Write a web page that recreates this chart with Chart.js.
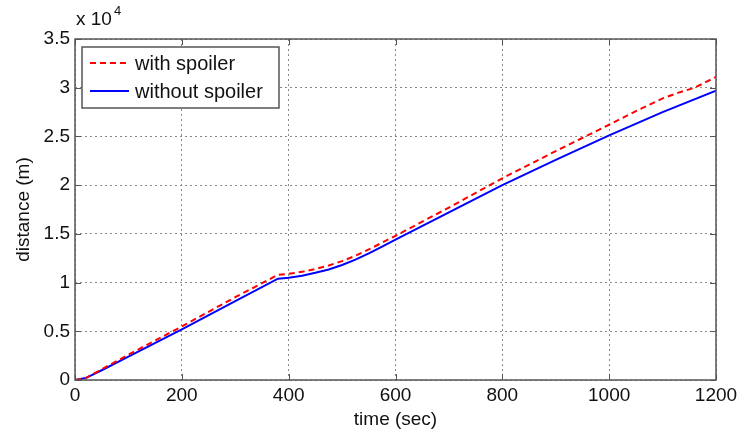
<!DOCTYPE html>
<html>
<head>
<meta charset="utf-8">
<script src="https://cdn.jsdelivr.net/npm/chart.js@4/dist/chart.umd.min.js"></script>
<style>
html,body{margin:0;padding:0;background:#fff;}
#wrap{width:742px;height:435px;position:relative;}
</style>
</head>
<body>
<div id="wrap"><canvas id="c" width="742" height="435"></canvas></div>
<script>
// time (sec)
const timeWith = [0, 20, 50, 100, 200, 300, 380, 400, 425, 450, 475, 500, 525, 550, 575, 600, 700, 800, 900, 1000, 1050, 1100, 1130, 1160, 1200];
// distance with spoiler (x 10^4 m)
const distWith = [0, 0.02, 0.11, 0.26, 0.55, 0.85, 1.08, 1.09, 1.11, 1.14, 1.175, 1.22, 1.275, 1.34, 1.41, 1.48, 1.77, 2.07, 2.35, 2.62, 2.76, 2.89, 2.95, 3.00, 3.11];
const timeWithout = [0, 20, 50, 100, 200, 300, 380, 400, 425, 450, 475, 500, 525, 550, 575, 600, 700, 800, 900, 1000, 1100, 1200];
// distance without spoiler (x 10^4 m)
const distWithout = [0, 0.02, 0.10, 0.24, 0.52, 0.81, 1.04, 1.05, 1.07, 1.10, 1.135, 1.18, 1.235, 1.30, 1.37, 1.44, 1.72, 2.00, 2.26, 2.51, 2.75, 2.97];
const xTicks = [0, 200, 400, 600, 800, 1000, 1200];
const yTicks = [0, 0.5, 1, 1.5, 2, 2.5, 3, 3.5];
const seriesNames = ['with spoiler', 'without spoiler'];
const xTitle = 'time (sec)';
const yTitle = 'distance (m)';
const exponentText = 'x 10';
const exponentPow = '4';

const FONT = 'Liberation Sans, Arial, sans-serif';
const frameColor = '#555555';
const textColor = '#111111';

const matlabPlugin = {
  id: 'matlab',
  afterDraw(chart) {
    const ctx = chart.ctx;
    const a = chart.chartArea;
    const xs = chart.scales.x, ys = chart.scales.y;
    ctx.save();
    // frame
    ctx.strokeStyle = frameColor;
    ctx.lineWidth = 1.5;
    ctx.setLineDash([]);
    ctx.strokeRect(a.left, a.top, a.right - a.left, a.bottom - a.top);
    // inward ticks
    ctx.lineWidth = 1;
    ctx.beginPath();
    xTicks.forEach(v => {
      const p = Math.round(xs.getPixelForValue(v)) + 0.5;
      ctx.moveTo(p, a.bottom); ctx.lineTo(p, a.bottom - 6);
      ctx.moveTo(p, a.top); ctx.lineTo(p, a.top + 6);
    });
    yTicks.forEach(v => {
      const p = Math.round(ys.getPixelForValue(v)) + 0.5;
      ctx.moveTo(a.left, p); ctx.lineTo(a.left + 6, p);
      ctx.moveTo(a.right, p); ctx.lineTo(a.right - 6, p);
    });
    ctx.stroke();
    // exponent label
    ctx.fillStyle = textColor;
    ctx.font = '19px ' + FONT;
    ctx.textAlign = 'left';
    ctx.textBaseline = 'alphabetic';
    ctx.fillText(exponentText, 76, 25);
    const w = ctx.measureText(exponentText).width;
    ctx.font = '13px ' + FONT;
    ctx.fillText(exponentPow, 76 + w + 2, 15);
    // legend
    const lx = 82, ly = 47, lw = 197, lh = 61;
    ctx.fillStyle = '#fff';
    ctx.fillRect(lx, ly, lw, lh);
    ctx.strokeStyle = frameColor;
    ctx.lineWidth = 1.5;
    ctx.strokeRect(lx, ly, lw, lh);
    const rows = [63, 91];
    chart.data.datasets.forEach((ds, i) => {
      const y = rows[i];
      ctx.strokeStyle = ds.borderColor;
      ctx.lineWidth = 2;
      ctx.setLineDash(ds.borderDash || []);
      ctx.beginPath();
      ctx.moveTo(90, y); ctx.lineTo(129, y);
      ctx.stroke();
      ctx.setLineDash([]);
      ctx.fillStyle = textColor;
      ctx.font = '20px ' + FONT;
      ctx.textBaseline = 'middle';
      ctx.fillText(ds.label, 135, y + 1);
    });
    ctx.restore();
  }
};

const toPts = (xs, ys) => xs.map((x, i) => ({x: x, y: ys[i]}));

new Chart(document.getElementById('c'), {
  type: 'line',
  data: {
    datasets: [
      {label: seriesNames[0], data: toPts(timeWith, distWith), borderColor: '#ff0000', borderWidth: 2, borderDash: [6, 4], pointRadius: 0, tension: 0, fill: false},
      {label: seriesNames[1], data: toPts(timeWithout, distWithout), borderColor: '#0000ff', borderWidth: 2, pointRadius: 0, tension: 0, fill: false}
    ]
  },
  options: {
    responsive: false,
    animation: false,
    layout: {padding: {left: 0, right: 26, top: 39, bottom: 0}},
    plugins: {legend: {display: false}, tooltip: {enabled: false}},
    scales: {
      x: {
        type: 'linear', min: 0, max: 1200,
        afterBuildTicks: s => { s.ticks = xTicks.map(v => ({value: v})); },
        afterFit: s => { s.height = 55; },
        grid: {color: '#8a8a8a', lineWidth: 1, drawTicks: false},
        border: {display: false, dash: [2, 3]},
        ticks: {color: textColor, font: {family: FONT, size: 19}, padding: 4, maxRotation: 0, callback: v => String(v)},
        title: {display: true, text: xTitle, color: textColor, font: {family: FONT, size: 19}, padding: {top: 0, bottom: 4}}
      },
      y: {
        type: 'linear', min: 0, max: 3.5,
        afterBuildTicks: s => { s.ticks = yTicks.map(v => ({value: v})); },
        afterFit: s => { s.width = 75; },
        grid: {color: '#8a8a8a', lineWidth: 1, drawTicks: false},
        border: {display: false, dash: [2, 3]},
        ticks: {color: textColor, font: {family: FONT, size: 19}, padding: 5, callback: v => String(v)},
        title: {display: true, text: yTitle, color: textColor, font: {family: FONT, size: 19}, padding: {top: 12, bottom: 0}}
      }
    }
  },
  plugins: [matlabPlugin]
});
</script>
</body>
</html>
